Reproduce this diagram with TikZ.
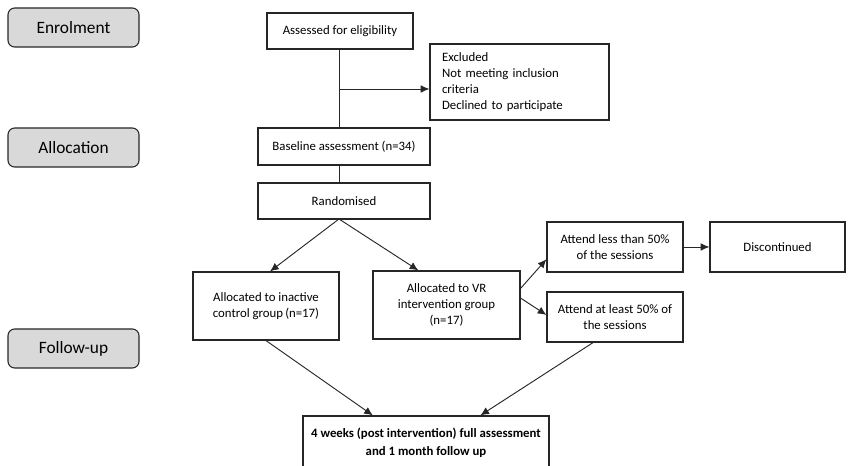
\documentclass[tikz,border=0pt]{standalone}
\usepackage{fontspec}
\setmainfont{Carlito}
\usetikzlibrary{arrows.meta,calc}
\definecolor{lab}{HTML}{D9D9D9}
\definecolor{edge}{HTML}{262626}
\begin{document}
\begin{tikzpicture}[x=0.75pt,y=-0.75pt,
  box/.style={draw=edge,line width=0.9pt,fill=white,align=center,font=\fontsize{9.6}{12}\selectfont,inner sep=2pt},
  sidelab/.style={draw=edge,line width=0.8pt,fill=lab,rounded corners=5pt,minimum width=131*0.75pt,minimum height=39*0.75pt,font=\fontsize{13}{15}\selectfont},
  conn/.style={draw=edge,line width=0.7pt},
  arr/.style={conn,-{Latex[length=6.5pt,width=5.8pt]}}]
\useasboundingbox (0,0) rectangle (853,466);
\clip (0,0) rectangle (853,466);
% side labels
\node[sidelab] (enrol) at (73.5,27.5) {Enrolment};
\node[sidelab] (alloc) at (73.5,147.5) {Allocation};
\node[sidelab] (follow) at (73.5,348.5) {Follow-up};
% boxes
\node[box,minimum width=146*0.75pt,minimum height=36*0.75pt] (assess) at (340,31) {Assessed for\ eligibility};
\node[box,text width=155*0.75pt,inner xsep=9pt,minimum height=76*0.75pt,align=left,font=\fontsize{9.6}{11.8}\selectfont] (excl) at (519.5,82) {Excluded\\Not\ meeting inclusion\\criteria\\Declined\ to participate};
\node[box,minimum width=172*0.75pt,minimum height=37*0.75pt] (base) at (344,146.5) {Baseline\ assessment (n=34)};
\node[box,minimum width=172*0.75pt,minimum height=36*0.75pt] (rand) at (344,201) {Randomised};
\node[box,minimum width=146*0.75pt,minimum height=68*0.75pt] (inact) at (266,306) {Allocated to inactive\\control group\,(n=17)};
\node[box,minimum width=147*0.75pt,minimum height=68*0.75pt] (vr) at (446.5,305) {Allocated to VR\\intervention group\\(n=17)};
\node[box,minimum width=136*0.75pt,minimum height=50*0.75pt] (less) at (615,247) {Attend\ less than 50\%\\of the sessions};
\node[box,minimum width=135*0.75pt,minimum height=50*0.75pt] (disc) at (777.5,247) {Discontinued};
\node[box,minimum width=136*0.75pt,minimum height=50*0.75pt] (least) at (615,317) {Attend\ at least 50\% of\\the sessions};
\node[box,minimum width=246*0.75pt,minimum height=54*0.75pt,font=\bfseries\fontsize{9.6}{13.5}\selectfont] (final) at (426,443) {4 weeks (post intervention) full assessment\\and 1 month follow up};
% connectors
\coordinate (branch) at (339,89);
\coordinate (split) at (339,219);
\draw[conn] (assess.south -| branch) -- (branch |- base.north);
\draw[arr] (branch) -- (branch -| excl.west);
\draw[conn] (branch |- base.south) -- (branch |- rand.north);
\draw[arr] (split) -- ([xshift=3pt]inact.north);
\draw[arr] (split) -- ($(vr.north west)!0.31!(vr.north east)$);
\draw[arr] ($(vr.north east)!0.26!(vr.south east)$) -- ($(less.north west)!0.74!(less.south west)$);
\draw[arr] ($(vr.north east)!0.40!(vr.south east)$) -- ($(least.north west)!0.46!(least.south west)$);
\draw[arr] (less.east) -- (disc.west);
\draw[arr] (inact.south) -- ($(final.north west)!0.285!(final.north east)$);
\draw[arr] ($(least.south west)!0.34!(least.south east)$) -- ($(final.north west)!0.72!(final.north east)$);
\end{tikzpicture}
\end{document}
